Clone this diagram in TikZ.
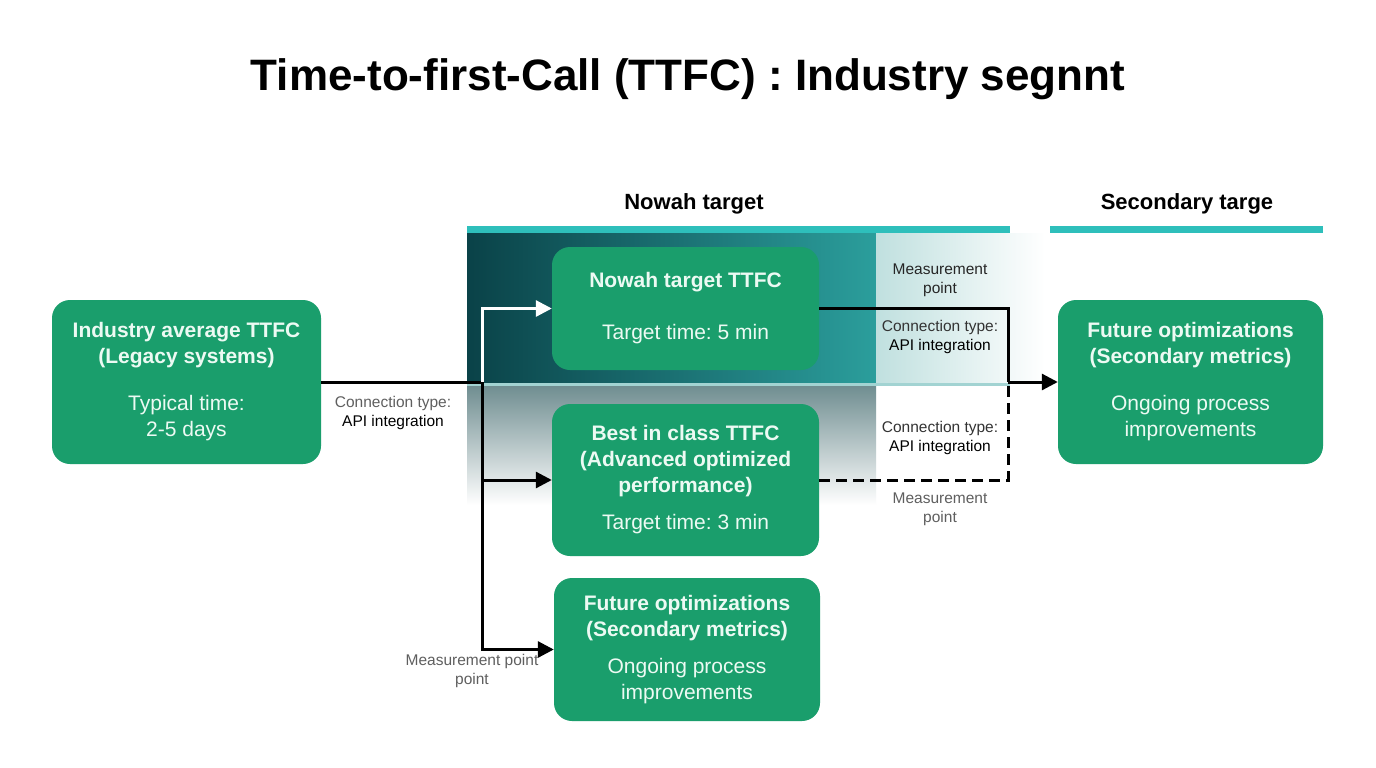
\documentclass[tikz,border=0pt]{standalone}
\usepackage{fontspec}
\setmainfont{Liberation Sans}
\usetikzlibrary{arrows.meta}
\definecolor{boxgreen}{RGB}{26,158,108}
\definecolor{boxtext}{RGB}{236,250,243}
\definecolor{tealbar}{RGB}{46,191,187}
\definecolor{darkteal}{RGB}{10,66,72}
\definecolor{midteal}{RGB}{43,158,156}
\definecolor{paleteal}{RGB}{192,224,223}
\definecolor{grayteal}{RGB}{112,142,145}
\definecolor{lblgray}{RGB}{95,95,95}
\tikzset{
  greenbox/.style={fill=boxgreen, rounded corners=18pt, draw=none, text=boxtext,
    align=center, inner xsep=0pt, inner ysep=0pt, font=\frenchspacing\fontsize{21}{26}\selectfont},
  conn/.style={line width=3pt, draw=black, -{Triangle[length=16pt,width=16pt]}},
  whiteconn/.style={line width=3pt, draw=white, -{Triangle[length=16pt,width=16pt]}},
  plainconn/.style={line width=3pt, draw=black},
  dashconn/.style={line width=3pt, draw=black, dash pattern=on 11pt off 6pt},
  lbl/.style={align=center, font=\frenchspacing\fontsize{15.5}{19}\selectfont, inner sep=0pt},
  head/.style={font=\bfseries\fontsize{22}{26}\selectfont, inner sep=0pt},
}
\begin{document}
\begin{tikzpicture}[x=1pt,y=-1pt]
\useasboundingbox (0,0) rectangle (1376,768);
\fill[white] (0,0) rectangle (1376,768);

% title
\node[font=\bfseries\fontsize{44}{50}\selectfont, inner sep=0pt] (title) at (688,79) {Time-to-first-Call (TTFC) : Industry segnnt};

% headers and bars
\node[head] (h1) at (694,204) {Nowah target};
\node[head] (h2) at (1187,204) {Secondary targe};
\fill[tealbar] (467,226) rectangle (1010,233);
\fill[tealbar] (1050,226) rectangle (1323,233);

% shaded band
\shade[left color=darkteal, right color=midteal] (467,233) rectangle (876,383);
\shade[left color=paleteal, right color=white] (876,233) rectangle (1045,383);
\shade[top color=grayteal, bottom color=white] (467,386) rectangle (876,505);
\fill[paleteal!80!midteal] (467,383) rectangle (1010,386);

% boxes
\node[greenbox, minimum width=269pt, minimum height=164pt] (left) at (186.5,382)
  {\bfseries Industry average TTFC\\ \bfseries (Legacy systems)\\[21pt] \mdseries Typical time:\\ \mdseries 2-5 days};
\node[greenbox, minimum width=267pt, minimum height=123pt] (nowah) at (685.5,308.5)
  {\bfseries Nowah target TTFC\\[26pt] \mdseries Target time: 5 min};
\node[greenbox, minimum width=267pt, minimum height=152pt] (best) at (685.5,480)
  {\bfseries Best in class TTFC\\ \bfseries (Advanced optimized\\ \bfseries performance)\\[11pt] \mdseries Target time: 3 min};
\node[greenbox, minimum width=266pt, minimum height=143pt] (futm) at (687,649.5)
  {\bfseries Future optimizations\\ \bfseries (Secondary metrics)\\[11pt] \mdseries Ongoing process\\ \mdseries improvements};
\node[greenbox, minimum width=265pt, minimum height=164pt] (right) at (1190.5,382)
  {\bfseries Future optimizations\\ \bfseries (Secondary metrics)\\[21pt] \mdseries Ongoing process\\ \mdseries improvements};

% connectors
\coordinate (j) at (482,382);
\coordinate (m) at (1008,382);
\draw[plainconn] (left.east) -- (j);
\draw[whiteconn] (j) |- (nowah.west);
\draw[conn] (j) |- (best.west);
\draw[conn] (j) |- (futm.west);
\draw[plainconn] (nowah.east) -| (m);
\draw[dashconn] (best.east) -| (m);
\draw[conn] (m) -- (right.west);

% labels
\node[lbl] (l1) at (393,413) {\textcolor{lblgray}{Connection type:}\\ API integration};
\node[lbl, text=black!85] (l2) at (940,280.5) {Measurement\\ point};
\node[lbl] (l3) at (940,337) {\textcolor{black!80}{Connection type:}\\ API integration};
\node[lbl] (l4) at (940,437.5) {\textcolor{black!80}{Connection type:}\\ API integration};
\node[lbl, text=lblgray] (l5) at (940,509.5) {Measurement\\ point};
\node[lbl, text=lblgray] (l6) at (472,670.5) {Measurement point\\ point};
\end{tikzpicture}
\end{document}
